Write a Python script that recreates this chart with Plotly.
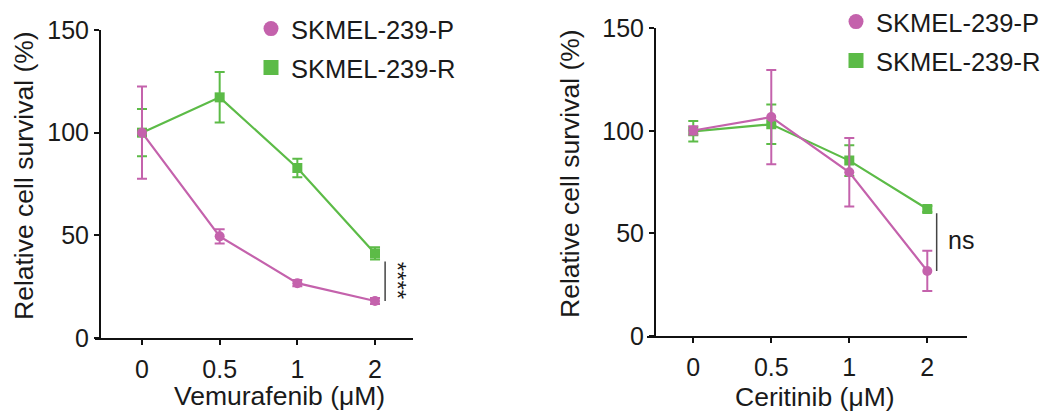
import plotly.graph_objects as go

# page body has an 8px margin, so the figure is drawn 8px right/down
OFF = 8
W, H = 1040, 404

doses = ["0", "0.5", "1", "2"]
series_names = ["SKMEL-239-P", "SKMEL-239-R"]

vem_p = [100, 49.5, 26.7, 18.0]
vem_p_err = [22.5, 3.5, 1.5, 1.5]
vem_r = [100, 117.2, 82.8, 41.2]
vem_r_err = [11.5, 12.3, 4.5, 3.0]

cer_p = [100.2, 106.7, 79.8, 31.7]
cer_p_err = [2.0, 23.0, 16.7, 9.8]
cer_r = [99.8, 103.2, 85.5, 61.9]
cer_r_err = [5.0, 9.6, 7.5, 1.5]

y_ticks = [0, 50, 100, 150]
sig_labels = ["****", "ns"]
x_titles = ["Vemurafenib (\u03bcM)", "Ceritinib (\u03bcM)"]
y_title = "Relative cell survival (%)"

MAG = "#C462AC"
GRN = "#5CBB47"
TXT = "#1a1a1a"
FONT = "Liberation Sans, Arial, Helvetica, sans-serif"


def px(x):
    return (x - OFF) / W


def py(y):
    return 1 - (y - OFF) / H


fig = go.Figure()

panels = [
    (vem_p, vem_p_err, vem_r, vem_r_err, "x", "y"),
    (cer_p, cer_p_err, cer_r, cer_r_err, "x2", "y2"),
]

for p, pe, r, re_, xa, ya in panels:
    fig.add_trace(go.Scatter(
        x=doses, y=r, mode="lines+markers", xaxis=xa, yaxis=ya,
        line=dict(color=GRN, width=2.2),
        marker=dict(symbol="square", size=10, color=GRN),
        error_y=dict(type="data", array=re_, color=GRN, thickness=2, width=5),
        showlegend=False, name=series_names[1]))
    fig.add_trace(go.Scatter(
        x=doses, y=p, mode="lines+markers", xaxis=xa, yaxis=ya,
        line=dict(color=MAG, width=2.2),
        marker=dict(symbol="circle", size=10, color=MAG),
        error_y=dict(type="data", array=pe, color=MAG, thickness=2, width=5),
        showlegend=False, name=series_names[0]))

# legend entries (marker only), one legend per entry for exact placement
legend_specs = [
    ("legend", series_names[0], "circle", MAG, "x", "y"),
    ("legend2", series_names[1], "square", GRN, "x", "y"),
    ("legend3", series_names[0], "circle", MAG, "x2", "y2"),
    ("legend4", series_names[1], "square", GRN, "x2", "y2"),
]
for lg, nm, sym, col, xa, ya in legend_specs:
    fig.add_trace(go.Scatter(
        x=[None], y=[None], mode="markers", xaxis=xa, yaxis=ya,
        marker=dict(symbol=sym, size=15, color=col),
        name=nm, legend=lg, showlegend=True))

axis_common = dict(
    showline=True, linewidth=2, linecolor="#111111",
    ticks="outside", ticklen=5, tickwidth=2, tickcolor="#111111",
    showgrid=False, zeroline=False, automargin=False,
    tickfont=dict(family=FONT, size=25, color=TXT),
)

fig.update_layout(
    width=W, height=H,
    margin=dict(l=0, r=0, t=0, b=0, pad=0, autoexpand=False),
    paper_bgcolor="white", plot_bgcolor="white",
    font=dict(family=FONT, size=25, color=TXT),
    xaxis=dict(axis_common, type="category", domain=[px(95), px(413)],
               range=[-0.605, 3.489], anchor="y", ticklabelstandoff=3),
    yaxis=dict(axis_common, domain=[py(338), py(30)], range=[0, 150],
               tickvals=y_ticks, anchor="free", position=px(100)),
    xaxis2=dict(axis_common, type="category", domain=[px(646.7), px(966.7)],
                range=[-0.597, 3.505], anchor="y2", ticklabelstandoff=3),
    yaxis2=dict(axis_common, domain=[py(336), py(28.3)], range=[0, 150],
                tickvals=y_ticks, anchor="free", position=px(655)),
)

leg_common = dict(bgcolor="rgba(0,0,0,0)", borderwidth=0,
                  font=dict(family=FONT, size=25.5, color=TXT),
                  xanchor="left", yanchor="middle", itemsizing="trace")
fig.update_layout(
    legend=dict(leg_common, x=px(251), y=py(29)),
    legend2=dict(leg_common, x=px(251), y=py(68)),
    legend3=dict(leg_common, x=px(836), y=py(22)),
    legend4=dict(leg_common, x=px(836), y=py(61)),
)

# significance brackets derived from the last data points
last = len(doses) - 1
fig.add_shape(type="line", xref="x", yref="y",
              x0=last + 0.13, x1=last + 0.13,
              y0=vem_r[last] - vem_r_err[last] - 1, y1=vem_p[last],
              line=dict(color="#444444", width=1.5))
fig.add_annotation(xref="x", yref="y", x=last + 0.29,
                   y=(vem_r[last] - vem_r_err[last] + vem_p[last]) / 2,
                   text=sig_labels[0], textangle=90, showarrow=False,
                   xanchor="center", yanchor="middle",
                   font=dict(family=FONT, size=24, color=TXT))
fig.add_shape(type="line", xref="x2", yref="y2",
              x0=last + 0.12, x1=last + 0.12,
              y0=cer_r[last] - 2, y1=cer_p[last],
              line=dict(color="#444444", width=1.5))
fig.add_annotation(xref="x2", yref="y2", x=last + 0.43,
                   y=(cer_r[last] + cer_p[last]) / 2,
                   text=sig_labels[1], showarrow=False,
                   xanchor="center", yanchor="middle",
                   font=dict(family=FONT, size=25, color=TXT))

# axis titles
title_pos = [
    (y_title, 24, 176, -90),
    (y_title, 570, 174, -90),
    (x_titles[0], 279, 396, 0),
    (x_titles[1], 815, 397, 0),
]
for txt, tx, ty, ang in title_pos:
    fig.add_annotation(xref="paper", yref="paper", x=px(tx), y=py(ty),
                       text=txt, textangle=ang, showarrow=False,
                       xanchor="center", yanchor="middle",
                       font=dict(family=FONT, size=26.5, color=TXT))

fig.write_html("out.html")
